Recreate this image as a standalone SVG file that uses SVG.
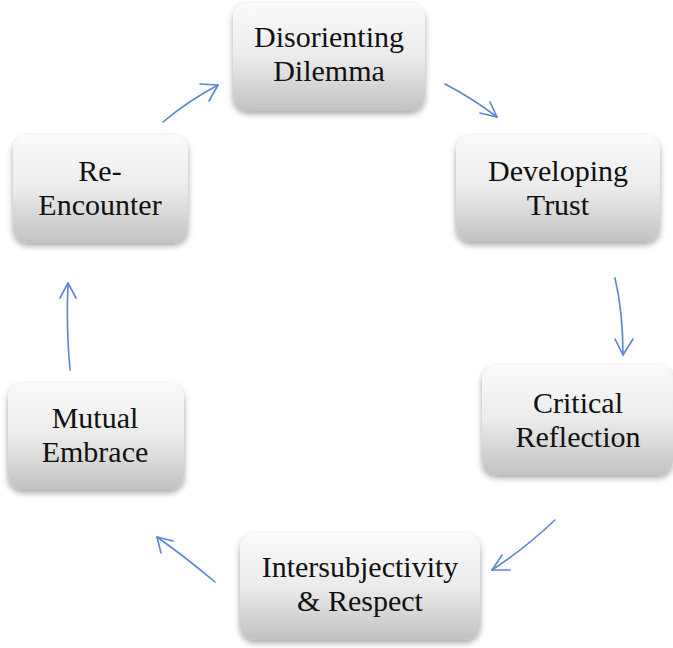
<svg xmlns="http://www.w3.org/2000/svg" width="673" height="648" viewBox="0 0 673 648">
  <style>
    .box { fill: url(#boxFill); filter: url(#soft); }
    .label { font-family: "Liberation Serif", "Times New Roman", "DejaVu Serif", serif; font-size: 30px; fill: #111111; text-anchor: middle; }
    .link { fill: none; stroke: #5b84d6; stroke-width: 1.6; stroke-linecap: round; stroke-linejoin: round; }
  </style>
  <defs>
    <linearGradient id="boxFill" x1="0" y1="0" x2="0" y2="1">
      <stop offset="0" stop-color="#fbfbfb"/>
      <stop offset="0.5" stop-color="#ebebeb"/>
      <stop offset="1" stop-color="#c2c2c2"/>
    </linearGradient>
    <filter id="soft" x="-10%" y="-10%" width="120%" height="130%">
      <feGaussianBlur in="SourceAlpha" stdDeviation="3"/>
      <feOffset dy="3" result="blur"/>
      <feComponentTransfer><feFuncA type="linear" slope="0.35"/></feComponentTransfer>
      <feMerge><feMergeNode/><feMergeNode in="SourceGraphic"/></feMerge>
    </filter>
  </defs>

  <rect width="673" height="648" fill="#ffffff"/>

  <g id="disorienting-dilemma">
    <rect class="box" x="233" y="3" width="192" height="108" rx="15"/>
    <text class="label" x="329" y="47">Disorienting</text>
    <text class="label" x="329" y="81">Dilemma</text>
  </g>

  <g id="developing-trust">
    <rect class="box" x="456" y="135" width="204" height="107" rx="15"/>
    <text class="label" x="558" y="181">Developing</text>
    <text class="label" x="558" y="215">Trust</text>
  </g>

  <g id="critical-reflection">
    <rect class="box" x="482" y="365" width="191" height="110" rx="15"/>
    <text class="label" x="578" y="413">Critical</text>
    <text class="label" x="578" y="447">Reflection</text>
  </g>

  <g id="intersubjectivity-respect">
    <rect class="box" x="240" y="533" width="240" height="107" rx="15"/>
    <text class="label" x="360" y="577">Intersubjectivity</text>
    <text class="label" x="360" y="611">&amp; Respect</text>
  </g>

  <g id="mutual-embrace">
    <rect class="box" x="8" y="383" width="176" height="107" rx="15"/>
    <text class="label" x="95" y="428">Mutual</text>
    <text class="label" x="95" y="462">Embrace</text>
  </g>

  <g id="re-encounter">
    <rect class="box" x="13" y="135" width="175" height="108" rx="15"/>
    <text class="label" x="100" y="181">Re-</text>
    <text class="label" x="100" y="215">Encounter</text>
  </g>

  <g id="connectors">
    <!-- Re-Encounter to Disorienting Dilemma -->
    <path class="link" d="M163,122 Q188,101 218,85"/>
    <path class="link" d="M200,84 L218,85 L209,101"/>
    <!-- Disorienting Dilemma to Developing Trust -->
    <path class="link" d="M445,84 Q472,98 497,117"/>
    <path class="link" d="M480,113 L497,117 L490,102"/>
    <!-- Developing Trust to Critical Reflection -->
    <path class="link" d="M615,278 Q623,312 623,355"/>
    <path class="link" d="M615,339 L623,355 L633,339"/>
    <!-- Critical Reflection to Intersubjectivity -->
    <path class="link" d="M555,520 Q523,550 492,570"/>
    <path class="link" d="M502,555 L492,570 L510,570"/>
    <!-- Intersubjectivity to Mutual Embrace -->
    <path class="link" d="M215,582 Q184,556 157,537"/>
    <path class="link" d="M173,541 L157,537 L161,553"/>
    <!-- Mutual Embrace to Re-Encounter -->
    <path class="link" d="M70,370 Q66,326 68,283"/>
    <path class="link" d="M60,298 L68,283 L76,298"/>
  </g>
</svg>
